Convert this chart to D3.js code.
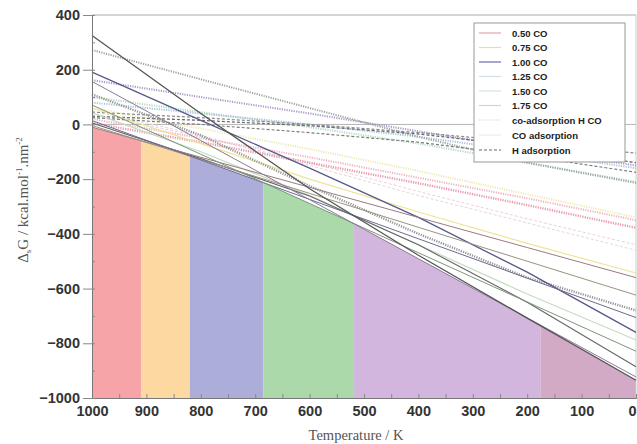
<!DOCTYPE html>
<html><head><meta charset="utf-8">
<script src="https://cdn.jsdelivr.net/npm/d3@7"></script>
<style>html,body{margin:0;padding:0;background:#fff;}svg{display:block;}</style>
</head><body><svg id="c" width="637" height="444"></svg>
<script>
// ---- data ----
const temps = [1000, 800, 600, 400, 200, 0];
const xTicks = [1000, 900, 800, 700, 600, 500, 400, 300, 200, 100, 0];
const yTicks = [400, 200, 0, -200, -400, -600, -800, -1000];
// most stable coverage regions: boundaries in K
const regionBounds = [1000, 910, 820, 685, 520, 175, 0];
const regionColors = ["#f6a4a8", "#fdd9a2", "#adadda", "#abd9a9", "#d3b6dd", "#d3aac6"];
// CO adsorption (solid) lines forming the lower envelope
const co050 = [-10, -120, -230, -340, -450, -560];
const co075 = [-4, -128, -252, -376, -500, -624];
const co100 = [14, -130, -274, -418, -562, -706];
const co125 = [71, -109, -289, -469, -649, -829];
const co150 = [157, -59, -275, -491, -707, -923];
const co175 = [325, 40, -235, -478, -708, -935];
// other CO adsorption lines
const coYellow = [60, -70, -200, -320, -435, -543];
const coBlue = [191, 15, -160, -340, -540, -760];
const coLightGreen = [42, -100, -260, -440, -620, -788];
const coDark = [5, -125, -262, -440, -650, -886];
const coFaintPink = [40, -45, -140, -245, -345, -440];
const coFaintGray = [50, -40, -150, -260, -360, -460];
// co-adsorption H CO (dotted)
const caPinkA = [5, -65, -140, -215, -295, -378];
const caPinkB = [20, -50, -120, -195, -270, -350];
const caYellow = [60, -15, -90, -170, -255, -340];
const caPurple = [162, 100, 40, -25, -90, -150];
const caLightBlue = [80, 40, 0, -45, -100, -160];
const caLightGreen = [100, 45, -10, -70, -140, -210];
const caGray = [272, 165, 60, -45, -140, -214];
const caGrayThick = [110, -40, -225, -400, -560, -680];
// H adsorption (dashed)
const hA = [30, 15, -5, -35, -80, -140];
const hB = [45, 25, 0, -30, -65, -105];
const hC = [25, 0, -30, -65, -115, -175];
const legendLabels = ["0.50 CO", "0.75 CO", "1.00 CO", "1.25 CO", "1.50 CO", "1.75 CO", "co-adsorption H CO", "CO adsorption", "H adsorption"];
const coverageColors = ["#e8a0ac", "#ece27e", "#6a6ab8", "#d0dcea", "#d2e6d2", "#e6ccd8"];

// ---- chart ----
const svg = d3.select("#c");
const x = d3.scaleLinear().domain([1000, 0]).range([92, 636]);
const y = d3.scaleLinear().domain([-1000, 400]).range([398, 15]);

const envelope = [co050, co075, co100, co125, co150, co175];
const interps = envelope.map(v => d3.scaleLinear().domain(temps).range(v));
const minAt = t => d3.min(interps, f => f(t));

// filled regions
for (let i = 0; i < regionBounds.length - 1; i++) {
  const t0 = regionBounds[i], t1 = regionBounds[i + 1];
  const pts = d3.range(t0, t1 - 0.001, -2).concat([t1]);
  svg.append("path")
    .attr("fill", regionColors[i])
    .attr("d", d3.area().x(t => x(t)).y0(y(-1000)).y1(t => y(minAt(t)))(pts));
}

// frame
svg.append("line").attr("x1", x(1000)).attr("x2", x(0)).attr("y1", y(400)).attr("y2", y(400)).attr("stroke", "#aaa").attr("stroke-width", 1);
svg.append("line").attr("x1", x(0)).attr("x2", x(0)).attr("y1", y(400)).attr("y2", y(-1000)).attr("stroke", "#ccc").attr("stroke-width", 1);
// zero line
svg.append("line").attr("x1", x(1000)).attr("x2", x(0)).attr("y1", y(0)).attr("y2", y(0)).attr("stroke", "#b4b4b4").attr("stroke-width", 1);

const line = d3.line().x((d, i) => x(temps[i])).y(d => y(d));
const series = [
  {v: coFaintPink, c: "#efd0d6", w: 1, d: "3,2"},
  {v: coFaintGray, c: "#dcdce2", w: 1, d: "3,2"},
  {v: caYellow, c: "#f0eab4", w: 2, d: "1.2,1.2"},
  {v: caLightGreen, c: "#b6dcc0", w: 2, d: "1.2,1.2"},
  {v: caLightBlue, c: "#aac4e0", w: 2, d: "1.2,1.2"},
  {v: caPurple, c: "#aa9acc", w: 2, d: "1.2,1.2"},
  {v: caGray, c: "#9aa6a0", w: 2, d: "1.2,1.2"},
  {v: caPinkA, c: "#e898aa", w: 2.4, d: "1.2,1.2"},
  {v: caPinkB, c: "#eeb4c0", w: 2, d: "1.2,1.2"},
  {v: hA, c: "#6a6a6a", w: 1.3, d: "3,2"},
  {v: hB, c: "#8a8a8a", w: 1.2, d: "3,2"},
  {v: hC, c: "#7a7a7a", w: 1.2, d: "3,2"},
  {v: coYellow, c: "#eee496", w: 1.2, d: null},
  {v: coLightGreen, c: "#c4dcc4", w: 1.2, d: null},
  {v: caGrayThick, c: "#959595", w: 2.4, d: "1.2,1.2"},
  {v: coBlue, c: "#58588a", w: 1.3, d: null},
  {v: coDark, c: "#666", w: 1.1, d: null},
  {v: co050, c: "#9a7a82", w: 1, d: null},
  {v: co075, c: "#9a9280", w: 1, d: null},
  {v: co100, c: "#6a6a92", w: 1, d: null},
  {v: co125, c: "#7a967a", w: 1, d: null},
  {v: co150, c: "#8a7a98", w: 1, d: null},
  {v: co175, c: "#555", w: 1.3, d: null}
];
series.forEach(s => {
  svg.append("path").attr("d", line(s.v)).attr("fill", "none")
    .attr("stroke", s.c).attr("stroke-width", s.w)
    .attr("stroke-dasharray", s.d);
});

// axes
const gx = svg.append("g").attr("transform", `translate(0,${y(-1000)})`);
gx.call(d3.axisBottom(x).tickValues(xTicks).tickSize(0).tickPadding(8).tickFormat(d3.format("d")));
gx.append("g").call(d3.axisTop(x).tickValues(d3.range(0, 1001, 50)).tickSize(4).tickFormat(""));
gx.selectAll(".domain").attr("stroke", "#777");
gx.selectAll(".tick line").attr("stroke", "#888");
gx.selectAll("text").attr("font-family", "Liberation Sans, Arial, sans-serif").attr("font-weight", "bold").attr("font-size", 14.5).attr("fill", "#333");
gx.selectAll(".tick text").filter(d => d === 0).attr("dx", -4);

const gy = svg.append("g").attr("transform", `translate(${x(1000)},0)`);
gy.call(d3.axisLeft(y).tickValues(yTicks).tickSize(9).tickPadding(3).tickFormat(d3.format("d")));
gy.append("g").call(d3.axisRight(y).tickValues(d3.range(-1000, 401, 100)).tickSize(3).tickFormat(""));
gy.selectAll(".domain").attr("stroke", "#777");
gy.selectAll(".tick line").attr("stroke", "#888");
gy.selectAll("text").attr("font-family", "Liberation Sans, Arial, sans-serif").attr("font-weight", "bold").attr("font-size", 14.5).attr("fill", "#333");

// axis titles
svg.append("text").attr("x", 356).attr("y", 440).attr("text-anchor", "middle")
  .attr("font-family", "Liberation Serif, Times New Roman, serif").attr("font-size", 14.5).attr("fill", "#555")
  .text("Temperature / K");
const yt = svg.append("text").attr("transform", "translate(28,200) rotate(-90)").attr("text-anchor", "middle")
  .attr("font-family", "Liberation Serif, Times New Roman, serif").attr("font-size", 15).attr("fill", "#555");
yt.append("tspan").text("Δ");
yt.append("tspan").attr("font-size", 9).attr("dy", 3).text("s");
yt.append("tspan").attr("dy", -3).text("G / kcal.mol");
yt.append("tspan").attr("font-size", 9).attr("dy", -6).text("-1");
yt.append("tspan").attr("dy", 6).text(".nm");
yt.append("tspan").attr("font-size", 9).attr("dy", -6).text("-2");

// legend
const lg = svg.append("g");
lg.append("rect").attr("x", 474).attr("y", 23).attr("width", 151).attr("height", 139)
  .attr("fill", "#fff").attr("stroke", "#999").attr("stroke-width", 1);
const legendStyles = coverageColors.map(c => ({c: c, d: null, w: 1.2}))
  .concat([{c: "#e2e2e2", d: "1.2,1.2", w: 1.5}, {c: "#e8e8e8", d: null, w: 1}, {c: "#666", d: "3,2", w: 1.2}]);
const rowY = [33, 47.5, 62, 76.5, 91, 105.5, 120, 135, 150];
legendLabels.forEach((lab, i) => {
  const st = legendStyles[i];
  lg.append("line").attr("x1", 479).attr("x2", 501).attr("y1", rowY[i]).attr("y2", rowY[i])
    .attr("stroke", st.c).attr("stroke-width", st.w).attr("stroke-dasharray", st.d);
  lg.append("text").attr("x", 512).attr("y", rowY[i] + 3.5)
    .attr("font-family", "Liberation Sans, Arial, sans-serif").attr("font-weight", "bold")
    .attr("font-size", 9.5).attr("fill", "#222").text(lab);
});
</script></body></html>
